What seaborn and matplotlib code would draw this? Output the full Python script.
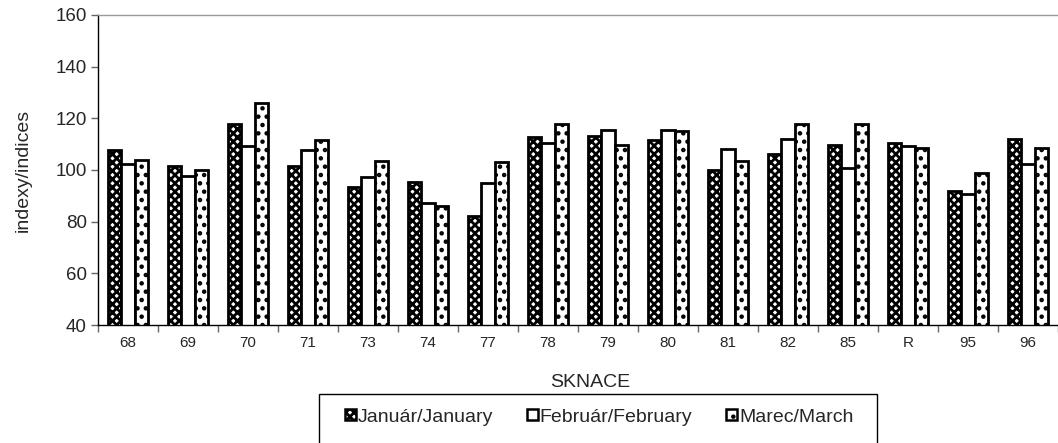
import matplotlib
matplotlib.use("Agg")
import matplotlib.pyplot as plt
import seaborn as sns
import pandas as pd
from matplotlib.patches import Patch, Rectangle

categories = ["68", "69", "70", "71", "73", "74", "77", "78", "79", "80", "81", "82", "85", "R", "95", "96"]
january = [107.7, 101.5, 117.8, 101.5, 93.5, 95.5, 82.2, 112.7, 113.2, 111.6, 100.0, 106.2, 109.7, 110.6, 91.9, 111.9]
february = [102.2, 97.7, 109.3, 107.7, 97.4, 87.1, 94.8, 110.3, 115.5, 115.5, 108.0, 111.9, 100.7, 109.3, 90.7, 102.3]
march = [103.9, 100.0, 125.8, 111.6, 103.5, 86.1, 103.2, 117.8, 109.7, 115.2, 103.5, 117.8, 117.8, 108.4, 98.7, 108.4]
series_names = ["Január/January", "Február/February", "Marec/March"]

sns.set_style("white")
plt.rcParams["font.family"] = ["Liberation Sans", "DejaVu Sans"]
plt.rcParams["hatch.linewidth"] = 2.0

df = pd.DataFrame({
    "cat": categories * 3,
    "val": january + february + march,
    "series": [series_names[0]] * 16 + [series_names[1]] * 16 + [series_names[2]] * 16,
})

W, H = 1058, 443
fig = plt.figure(figsize=(W / 100, H / 100), dpi=100)
ax = fig.add_axes([98 / W, 1 - 325 / H, (W - 98) / W, 310 / H])

sns.barplot(data=df, x="cat", y="val", hue="series", order=categories,
            hue_order=series_names, palette=["white"] * 3, width=0.68,
            edgecolor="black", linewidth=2.0, ax=ax, legend=False, errorbar=None,
            bottom=0)

hatches = ["xxxx", "", ".."]
n = len(categories)
for i, p in enumerate(ax.patches[:3 * n]):
    h = hatches[i // n]
    p.set_hatch(h)
    p.set_facecolor("white")
    p.set_edgecolor("black")

ax.set_ylim(40, 160)
ax.set_xlim(-0.5, -0.5 + (W - 98.3) / 60.9)
ax.set_yticks(range(40, 161, 20))
ax.set_xticks([i + 0.5 for i in range(-1, n)], minor=True)
ax.tick_params(axis="x", which="major", length=0, labelsize=11, pad=8)
ax.tick_params(axis="x", which="minor", length=5, color="#666666", width=1, direction="out")
ax.tick_params(axis="y", which="major", length=5, color="#666666", width=1, direction="out", labelsize=13.5, pad=3)
ax.xaxis.set_ticks_position("bottom")
ax.yaxis.set_ticks_position("left")

for s in ["left", "bottom"]:
    ax.spines[s].set_color("black")
    ax.spines[s].set_linewidth(1.0)
ax.spines["top"].set_color("#999999")
ax.spines["top"].set_linewidth(1.0)
ax.spines["right"].set_visible(False)

ax.set_xlabel("SKNACE", fontsize=14, labelpad=17)
ax.xaxis.label.set_x((590 - 98) / (W - 98))
ax.set_ylabel("indexy/indices", fontsize=14, labelpad=17)

# legend frame (bottom runs past the image edge, as in the reference)
fig.patches.append(Rectangle((319 / W, -0.05), (877 - 319) / W, 0.05 + 1 - 394 / H,
                             transform=fig.transFigure, facecolor="none",
                             edgecolor="black", linewidth=1.0))

handles = [Patch(facecolor="white", edgecolor="black", hatch=h, linewidth=1.8) for h in hatches]
leg = fig.legend(handles, series_names, loc="center left", bbox_to_anchor=(345 / W, 1 - 417 / H),
                 ncol=3, fontsize=14, frameon=False,
                 handlelength=0.55, handleheight=0.55, handletextpad=0.1, columnspacing=1.75,
                 borderpad=0.0, borderaxespad=0.0)

fig.savefig("out.png", dpi=100)
